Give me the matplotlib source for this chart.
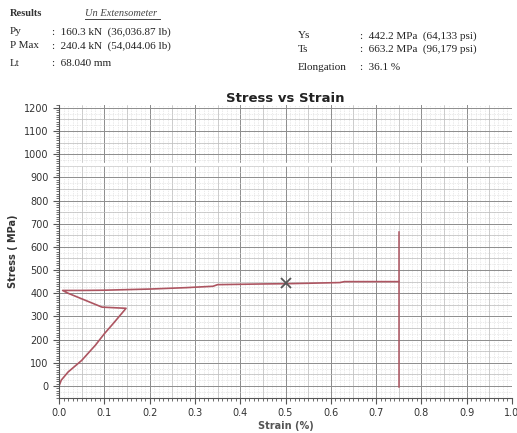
import matplotlib
matplotlib.use("Agg")
import matplotlib.pyplot as plt
import numpy as np
from matplotlib.ticker import MultipleLocator

# Curve data (strain %, stress MPa)
strain = [0.0, 0.005, 0.02, 0.05, 0.08, 0.10, 0.12, 0.148, 0.095, 0.02, 0.008,
          0.05, 0.10, 0.20, 0.28, 0.34, 0.35, 0.45, 0.50, 0.55, 0.62, 0.63, 0.70, 0.75]
stress = [0.0, 25, 60, 110, 175, 225, 270, 335, 340, 400, 412,
          412, 413, 418, 424, 430, 437, 440, 441, 443, 446, 450, 450, 450]
break_strain = [0.75, 0.75]
break_stress = [-5, 663]
ys_point = (0.5, 442.2)

left_labels = ["Py", "P Max", "Lt"]
left_values = [":  160.3 kN  (36,036.87 lb)", ":  240.4 kN  (54,044.06 lb)", ":  68.040 mm"]
right_labels = ["Ys", "Ts", "Elongation"]
right_values = [":  442.2 MPa  (64,133 psi)", ":  663.2 MPa  (96,179 psi)", ":  36.1 %"]

fig = plt.figure(figsize=(5.17, 4.33), dpi=100)
W, H = 517, 433
ax = fig.add_axes([59 / W, 1 - 398 / H, (512 - 59) / W, (398 - 105) / H])

line_color = "#ad5561"
ax.plot(strain, stress, color=line_color, lw=1.2)
ax.plot(break_strain, break_stress, color=line_color, lw=1.1)
ax.plot([ys_point[0]], [ys_point[1]], marker="x", color="#555555", ms=7, mew=1.3)

ax.set_xlim(0, 1.0)
ax.set_ylim(-52, 1212)
ax.xaxis.set_major_locator(MultipleLocator(0.1))
ax.xaxis.set_minor_locator(MultipleLocator(0.01))
ax.yaxis.set_major_locator(MultipleLocator(100))
ax.yaxis.set_minor_locator(MultipleLocator(10))
ax.set_xticklabels([f"{v:.1f}" for v in ax.get_xticks()])

# Graph-paper grid
for v in np.arange(0, 1.0001, 0.01):
    ax.axvline(v, color="#d6d6d6", lw=0.5, ls=(0, (1, 1.5)), zorder=0)
for v in np.arange(0, 1.0001, 0.05):
    ax.axvline(v, color="#bdbdbd", lw=0.5, zorder=0)
for v in np.arange(0, 1.0001, 0.1):
    ax.axvline(v, color="#8e8e8e", lw=0.7, zorder=0)
for v in np.arange(-50, 1201, 25):
    ax.axhline(v, color="#d6d6d6", lw=0.5, ls=(0, (1, 1.5)), zorder=0)
for v in np.arange(-50, 1201, 50):
    ax.axhline(v, color="#bdbdbd", lw=0.5, zorder=0)
for v in np.arange(0, 1201, 100):
    ax.axhline(v, color="#8e8e8e", lw=0.7, zorder=0)

for s in ["top", "right"]:
    ax.spines[s].set_visible(False)
ax.spines["left"].set_color("#555555")
ax.spines["bottom"].set_color("#555555")
ax.tick_params(axis="both", which="major", labelsize=7, length=4, color="#555555", labelcolor="#333333")
ax.tick_params(axis="both", which="minor", length=2, color="#555555")

ax.set_title("Stress vs Strain", fontsize=9.5, fontweight="bold", color="#222222", pad=2)
ax.set_ylabel("Stress ( MPa)", fontsize=7, fontweight="bold", color="#333333", labelpad=4)
ax.set_xlabel("Strain (%)", fontsize=7, fontweight="bold", color="#555555", labelpad=2)

# scan artefact: white break line
ax.axhspan(955, 962, color="white", zorder=1)

# Header text
serif = "Liberation Serif"
fig.text(10 / W, 1 - 14 / H, "Results", fontsize=7.5, fontweight="bold", family=serif, color="#333333", va="center")
fig.text(85 / W, 1 - 14 / H, "Un Extensometer", fontsize=7.5, style="italic", family=serif, color="#444444", va="center")
fig.add_artist(plt.Line2D([85 / W, 160 / W], [1 - 19 / H, 1 - 19 / H], color="#444444", lw=0.7))
ys_left = [32, 46, 63]
for lab, val, y in zip(left_labels, left_values, ys_left):
    fig.text(10 / W, 1 - y / H, lab, fontsize=8, family=serif, color="#222222", va="center")
    fig.text(52 / W, 1 - y / H, val, fontsize=8, family=serif, color="#222222", va="center")
ys_right = [36, 49, 67]
for lab, val, y in zip(right_labels, right_values, ys_right):
    fig.text(298 / W, 1 - y / H, lab, fontsize=8, family=serif, color="#222222", va="center")
    fig.text(360 / W, 1 - y / H, val, fontsize=8, family=serif, color="#222222", va="center")

fig.savefig("out.png", dpi=100)
